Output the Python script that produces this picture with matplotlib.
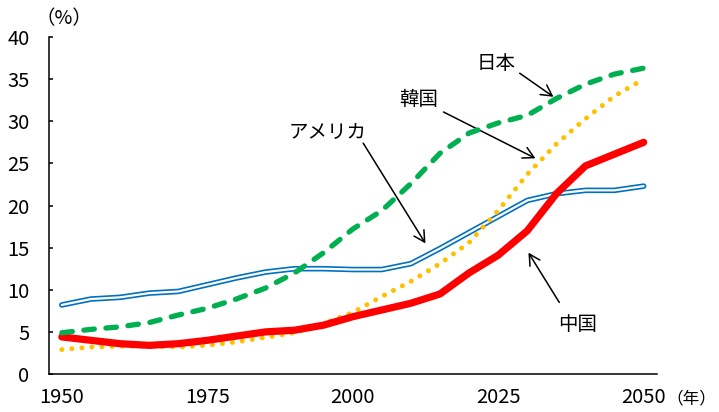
import matplotlib
matplotlib.use('Agg')
import matplotlib.pyplot as plt

plt.rcParams['font.family'] = ['Noto Sans CJK JP', 'DejaVu Sans']

# share of population aged 65+, every 5 years
years = list(range(1950, 2051, 5))
usa = [8.2, 8.9, 9.1, 9.6, 9.8, 10.6, 11.4, 12.1, 12.5, 12.5, 12.4,
       12.4, 13.1, 14.9, 16.8, 18.7, 20.6, 21.4, 21.8, 21.8, 22.3]
japan = [4.9, 5.3, 5.6, 6.1, 7.0, 7.8, 8.9, 10.2, 12.0, 14.4, 17.2,
         19.4, 22.6, 26.2, 28.6, 29.8, 30.7, 32.7, 34.4, 35.6, 36.3]
korea = [2.9, 3.2, 3.3, 3.3, 3.2, 3.4, 3.8, 4.35, 4.9, 6.0, 7.3,
         9.2, 11.0, 13.1, 15.6, 19.4, 23.7, 27.3, 30.3, 33.0, 35.0]
china = [4.4, 4.0, 3.6, 3.4, 3.6, 4.0, 4.5, 5.0, 5.2, 5.8, 6.8,
         7.6, 8.4, 9.5, 12.0, 14.1, 17.0, 21.4, 24.7, 26.1, 27.5]

xticks = [1950, 1975, 2000, 2025, 2050]
yticks = list(range(0, 41, 5))

fig = plt.figure(figsize=(7.19, 4.12), dpi=100)
ax = fig.add_axes([0.0682, 0.0922, 0.8456, 0.818])

# USA drawn as a hollow double line
ax.plot(years, usa, color='#0070C0', lw=4.0, solid_joinstyle='round', solid_capstyle='round', zorder=2)
ax.plot(years, usa, color='white', lw=1.6, solid_joinstyle='round', solid_capstyle='round', zorder=2.1)
ax.plot(years, korea, color='#FFC000', lw=3.6, dashes=(0.01, 2.0), dash_capstyle='round', zorder=3)
ax.plot(years, china, color='#FF0000', lw=5.2, solid_joinstyle='round', solid_capstyle='round', zorder=4)
ax.plot(years, japan, color='#00B050', lw=3.8, dashes=(2.0, 2.2), dash_capstyle='round', zorder=5)

ax.set_xlim(1947.8, 2052.3)
ax.set_ylim(0, 40)
ax.set_xticks(xticks)
ax.set_yticks(yticks)
ax.tick_params(axis='x', length=0, pad=9, labelsize=14.5)
ax.tick_params(axis='y', direction='in', length=3, width=1.1, pad=14, labelsize=14.5)
for side in ['top', 'right']:
    ax.spines[side].set_visible(False)
for side in ['left', 'bottom']:
    ax.spines[side].set_linewidth(1.1)

fig.text(64 / 719, 1 - 19 / 412, '（%）', ha='center', va='center', fontsize=14)
fig.text(666 / 719, 1 - 399 / 412, '（年）', ha='left', va='center', fontsize=12)

# country labels with arrows
labels = [
    ('日本', (2024.7, 36.9), (2028.7, 35.7), (2034.5, 32.9)),
    ('韓国', (2011.3, 32.6), (2015.6, 31.1), (2031.4, 25.6)),
    ('アメリカ', (1995.6, 28.7), (2001.8, 27.4), (2012.5, 15.5)),
    ('中国', (2038.6, 5.9), (2035.5, 8.5), (2030.2, 14.4)),
]
for name, pos, start, end in labels:
    ax.text(pos[0], pos[1], name, ha='center', va='center', fontsize=14)
    ax.annotate('', xy=end, xytext=start,
                arrowprops=dict(arrowstyle='->,head_length=0.55,head_width=0.3',
                                color='black', lw=1.1, shrinkA=0, shrinkB=0,
                                mutation_scale=14))

fig.savefig('out.png', dpi=100)
